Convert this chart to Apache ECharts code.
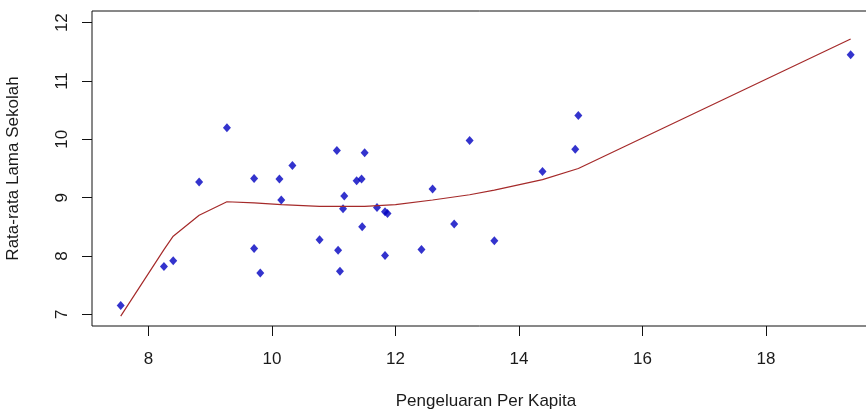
<!DOCTYPE html>
<html>
<head>
<meta charset="utf-8">
<script src="https://cdn.jsdelivr.net/npm/echarts@6/dist/echarts.min.js"></script>
<style>
html,body{margin:0;padding:0;background:#fff;}
#chart{width:866px;height:412px;}
</style>
</head>
<body>
<div id="chart"></div>
<script>
// Scatter points: Pengeluaran Per Kapita (x) vs Rata-rata Lama Sekolah (y)
var pointX = [7.55, 8.25, 8.40, 8.82, 9.27, 9.71, 10.12, 10.15, 9.71, 9.81,
              11.05, 11.50, 10.33, 11.37, 11.45, 11.17, 11.15, 11.70, 11.83, 11.87,
              11.46, 10.77, 11.07, 11.10, 11.83, 12.42, 12.60, 12.95, 13.20, 13.60,
              14.38, 14.91, 14.96, 19.37];
var pointY = [7.15, 7.82, 7.92, 9.27, 10.20, 9.33, 9.32, 8.96, 8.13, 7.71,
              9.81, 9.77, 9.55, 9.29, 9.32, 9.03, 8.81, 8.83, 8.76, 8.73,
              8.50, 8.28, 8.10, 7.74, 8.01, 8.11, 9.15, 8.55, 9.98, 8.26,
              9.45, 9.83, 10.41, 11.45];

// Smoothed (lowess) curve
var curveX = [7.55, 8.25, 8.40, 8.82, 9.27, 9.71, 10.15, 10.77, 11.50, 12.00,
              12.60, 13.20, 13.60, 14.38, 14.96, 19.37];
var curveY = [6.97, 8.11, 8.34, 8.70, 8.93, 8.91, 8.88, 8.85, 8.85, 8.88,
              8.96, 9.05, 9.13, 9.31, 9.50, 11.72];

// Tick values
var xTicks = [8, 10, 12, 14, 16, 18];
var yTicks = [7, 8, 9, 10, 11, 12];

var xTitle = 'Pengeluaran Per Kapita';
var yTitle = 'Rata-rata Lama Sekolah';

var points = pointX.map(function (x, i) { return [x, pointY[i]]; });
var curve = curveX.map(function (x, i) { return [x, curveY[i]]; });

var FONT = 'Liberation Sans, Arial, sans-serif';
var chart = echarts.init(document.getElementById('chart'), null, {renderer: 'canvas'});
chart.setOption({
  animation: false,
  backgroundColor: '#ffffff',
  grid: {
    left: 92, top: 11, right: -14, bottom: 86,
    outerBoundsMode: 'none',
    containLabel: false,
    show: true, borderColor: '#111', borderWidth: 1, backgroundColor: 'transparent'
  },
  xAxis: {
    type: 'value',
    min: 7.085, max: 19.845,
    name: xTitle,
    nameLocation: 'middle',
    nameGap: 67,
    nameTextStyle: {fontFamily: FONT, fontSize: 17, color: '#1a1a1a'},
    axisLine: {show: false},
    splitLine: {show: false},
    axisTick: {show: true, inside: false, length: 10, customValues: xTicks,
               lineStyle: {color: '#111', width: 1}},
    axisLabel: {show: true, customValues: xTicks, margin: 25,
                fontFamily: FONT, fontSize: 17, color: '#1a1a1a'}
  },
  yAxis: {
    type: 'value',
    min: 6.8, max: 12.2,
    name: yTitle,
    nameLocation: 'middle',
    nameGap: 70,
    nameTextStyle: {fontFamily: FONT, fontSize: 17, color: '#1a1a1a'},
    axisLine: {show: false},
    splitLine: {show: false},
    axisTick: {show: true, inside: false, length: 10, customValues: yTicks,
               lineStyle: {color: '#111', width: 1}},
    axisLabel: {show: true, customValues: yTicks, margin: 21, rotate: 90,
                fontFamily: FONT, fontSize: 17, color: '#1a1a1a'}
  },
  series: [
    {
      type: 'scatter',
      data: points,
      symbol: 'diamond',
      symbolSize: [8, 9],
      itemStyle: {color: '#0000c0'},
      z: 2
    },
    {
      type: 'line',
      data: curve,
      showSymbol: false,
      smooth: false,
      lineStyle: {color: '#a52a2a', width: 1.2},
      z: 3
    }
  ]
});
</script>
</body>
</html>
